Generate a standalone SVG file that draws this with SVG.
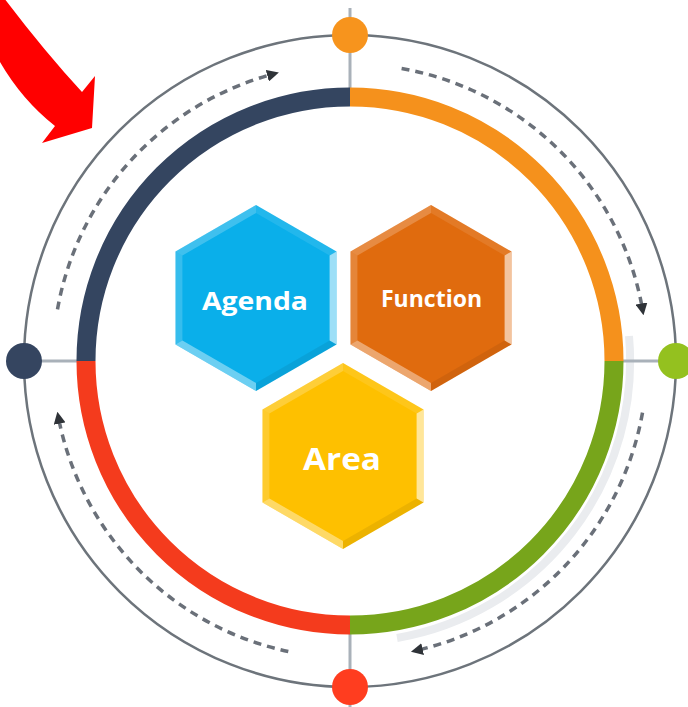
<svg xmlns="http://www.w3.org/2000/svg" xmlns:xlink="http://www.w3.org/1999/xlink" width="688" height="707" viewBox="0 0 688 707">
<style>
.outer{fill:none;stroke:#6d747b;stroke-width:2.5}
.tick{stroke:#a9b1b9;stroke-width:3}
.ring{fill:none;stroke-width:19}
.dash{fill:none;stroke:#6a7079;stroke-width:3.5;stroke-dasharray:8 6;marker-end:url(#ah)}
.lbl{fill:#ffffff;font-family:"Open Sans","Liberation Sans",sans-serif;font-weight:700;text-anchor:middle}
</style>
<defs>
<marker id="ah" viewBox="0 0 10 10" refX="5" refY="5" markerWidth="12" markerHeight="12" markerUnits="userSpaceOnUse" orient="auto">
<path d="M0,0 L10,5 L0,10 Z" fill="#2f3338"/>
</marker>
<g id="hex">
<polygon points="0,-93 80.5,-46.5 80.5,46.5 0,93 -80.5,46.5 -80.5,-46.5"/>
<polygon points="-80.5,-46.5 0,-93 0,-85 -73.6,-42.5" fill="#fff" fill-opacity="0.22"/>
<polygon points="0,-93 80.5,-46.5 73.6,-42.5 0,-85" fill="#fff" fill-opacity="0.1"/>
<polygon points="80.5,-46.5 80.5,46.5 73.6,42.5 73.6,-42.5" fill="#fff" fill-opacity="0.6"/>
<polygon points="80.5,46.5 0,93 0,85 73.6,42.5" fill="#000" fill-opacity="0.07"/>
<polygon points="0,93 -80.5,46.5 -73.6,42.5 0,85" fill="#fff" fill-opacity="0.4"/>
<polygon points="-80.5,46.5 -80.5,-46.5 -73.6,-42.5 -73.6,42.5" fill="#fff" fill-opacity="0.18"/>
</g>
</defs>
<rect width="688" height="707" fill="#ffffff"/>

<g id="pointer-arrow">
<path d="M0,-2 L4,-2 Q45,52 82,92 L95,76 L92,128 L42,143 L55,126 Q22,100 0,62 Z" fill="#ff0000"/>
</g>

<g id="cycle">
<circle class="outer" cx="350" cy="361" r="326"/>
<path d="M629,336 A281,281 0 0 1 397,638" fill="none" stroke="#eaecef" stroke-width="8"/>
<line class="tick" x1="350" y1="8" x2="350" y2="90"/>
<line class="tick" x1="350" y1="632" x2="350" y2="707"/>
<line class="tick" x1="24" y1="361" x2="80" y2="361"/>
<line class="tick" x1="620" y1="361" x2="676" y2="361"/>
<path class="ring" stroke="#344560" d="M86,361 A264,264 0 0 1 350,97"/>
<path class="ring" stroke="#f5911c" d="M350,97 A264,264 0 0 1 614,361"/>
<path class="ring" stroke="#77a51b" d="M614,361 A264,264 0 0 1 350,625"/>
<path class="ring" stroke="#f43b1d" d="M350,625 A264,264 0 0 1 86,361"/>
</g>

<g id="connectors">
<path class="dash" d="M57.5,309.4 A297,297 0 0 1 273.1,74.1"/>
<path class="dash" d="M401.6,68.5 A297,297 0 0 1 642.5,309.4"/>
<path class="dash" d="M642.5,412.6 A297,297 0 0 1 416.8,650.4"/>
<path class="dash" d="M288.3,651.5 A297,297 0 0 1 58.5,417.7"/>
</g>

<g id="dot-top"><circle cx="350" cy="35" r="18" fill="#f7941d"/></g>
<g id="dot-left"><circle cx="24" cy="361" r="18" fill="#354560"/></g>
<g id="dot-right"><circle cx="676" cy="361" r="18" fill="#94c11f"/></g>
<g id="dot-bottom"><circle cx="350" cy="687" r="18" fill="#ff3d1f"/></g>

<g id="agenda">
<use xlink:href="#hex" href="#hex" transform="translate(256,298)" fill="#0aafea"/>
<text class="lbl" x="255" y="310" font-size="25" textLength="106" lengthAdjust="spacingAndGlyphs">Agenda</text>
</g>
<g id="function">
<use xlink:href="#hex" href="#hex" transform="translate(431,298)" fill="#e06b0e"/>
<text class="lbl" x="431.5" y="307" font-size="23" textLength="101" lengthAdjust="spacingAndGlyphs">Function</text>
</g>
<g id="area">
<use xlink:href="#hex" href="#hex" transform="translate(343,456)" fill="#fec000"/>
<text class="lbl" x="342" y="470" font-size="31" textLength="78" lengthAdjust="spacingAndGlyphs">Area</text>
</g>
</svg>
